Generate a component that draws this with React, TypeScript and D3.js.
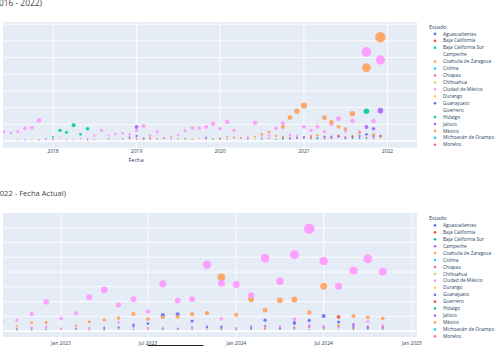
import React from "react";
import * as d3 from "d3";

type N = number | null;

// ---------- categories ----------
const STATES = [
  "Aguascalientes", "Baja California", "Baja California Sur", "Campeche",
  "Coahuila de Zaragoza", "Colima", "Chiapas", "Chihuahua", "Ciudad de México",
  "Durango", "Guanajuato", "Guerrero", "Hidalgo", "Jalisco", "México",
  "Michoacán de Ocampo", "Morelos",
];
const PALETTE = ["#636efa", "#EF553B", "#00cc96", "#ab63fa", "#FFA15A", "#19d3f3", "#FF6692", "#B6E880", "#FF97FF", "#FECB52"];
const TOP_HIDDEN = ["Campeche", "Guerrero"];

const TOP_TITLE = "Casos por Estado (2016 - 2022)";
const BOTTOM_TITLE = "Casos por Estado (2022 - Fecha Actual)";
const X_TITLE = "Fecha";
const LEGEND_TITLE = "Estado";

// months (Jun 2017 – Dec 2021) and (Sep 2022 – Nov 2024)
const TOP_MONTHS = d3.timeMonth.range(new Date(2017, 5, 1), new Date(2022, 0, 1));
const BOTTOM_MONTHS = d3.timeMonth.range(new Date(2022, 8, 1), new Date(2024, 11, 1));

const TOP_TICKS = [new Date(2018, 0, 1), new Date(2019, 0, 1), new Date(2020, 0, 1), new Date(2021, 0, 1), new Date(2022, 0, 1)];
const TOP_TICK_LABELS = ["2018", "2019", "2020", "2021", "2022"];
const BOTTOM_TICKS = [new Date(2023, 0, 1), new Date(2023, 6, 1), new Date(2024, 0, 1), new Date(2024, 6, 1), new Date(2025, 0, 1)];
const BOTTOM_TICK_LABELS = ["Jan 2023", "Jul 2023", "Jan 2024", "Jul 2024", "Jan 2025"];
const Y_GRID = [0, 100, 200, 300, 400, 500, 600, 700];

// ---------- top chart values (55 months) ----------
const topCdmx: N[] = [
  56, 48, 56, 76, 80, 124, 14, 12, 18, 12,
  10, 18, 14, 32, 64, 32, 42, 46, 40, 62,
  90, 34, 56, 18, 16, 36, 62, 78, 78, 84,
  104, 74, 114, 64, 18, 22, 110, 28, 34, 76,
  106, 36, 30, 86, 64, 86, 56, 102, 134, 60,
  120, 56, 534, 120, 486,
];
const topMexico: N[] = [
  null, null, 6, null, 8, 6, null, 10, null, 8,
  null, 6, null, 8, null, 10, null, 12, 14, 16,
  12, 22, 10, 14, 26, 12, 14, 10, 16, 12,
  14, 12, 24, 22, 16, 18, 26, 40, 54, 30,
  84, 140, 178, 212, 30, 34, 140, 112, 86, 74,
  164, 50, 440, 40, 622,
];
const topHidalgo: N[] = [
  null, null, null, null, null, null, null, 24, 64, 52,
  94, 40, 74, 10, null, null, null, null, null, null,
  8, null, null, null, null, null, null, null, null, null,
  10, null, null, null, null, null, null, null, null, null,
  12, null, null, null, null, 14, null, null, null, null,
  16, null, 178, null, null,
];
const topJalisco: N[] = [
  null, null, null, null, null, null, 12, null, null, null,
  null, null, 10, null, null, null, null, null, 22, 84,
  14, null, null, 18, null, null, null, null, null, 16,
  null, null, null, null, null, 14, null, null, null, null,
  null, 12, null, 22, null, null, 24, 26, null, 20,
  null, 30, 84, 74, 182,
];
const topGuanajuato: N[] = [
  null, null, null, 8, null, 6, null, 8, null, null,
  10, null, 8, null, null, 12, null, 14, 16, 30,
  18, null, 12, null, 10, null, 14, 10, null, 20,
  null, 12, 10, null, 18, 14, null, 14, null, 10,
  16, 12, 20, 24, 14, 20, 12, 18, 26, 14,
  22, 18, 40, 30, 28,
];
const topBajaCalifornia: N[] = [
  null, null, null, null, null, null, null, null, null, null,
  null, null, null, null, null, null, null, null, null, 10,
  null, 12, null, null, null, null, null, null, null, null,
  null, 16, null, 20, null, null, null, null, null, null,
  22, null, 18, null, 24, null, 26, null, 30, null,
  28, null, 20, null, 30,
];
const topChiapas: N[] = [
  null, null, null, null, null, null, null, null, null, null,
  null, null, null, null, null, null, null, null, null, null,
  null, 14, null, null, null, null, null, 10, null, null,
  null, null, null, null, null, null, null, null, 18, null,
  null, 20, null, 16, null, null, null, 20, null, 22,
  null, null, null, 18, null,
];
const topDurango: N[] = [
  null, null, 8, null, null, 10, null, null, null, null,
  8, null, null, null, 10, null, null, null, null, null,
  null, null, 12, null, null, null, 10, null, null, null,
  null, null, null, null, null, null, 12, null, null, null,
  14, null, null, null, 12, null, null, null, null, null,
  14, null, null, null, 16,
];
const topMichoacan: N[] = [
  null, null, null, null, null, null, null, null, null, null,
  null, null, 8, null, null, null, null, null, null, null,
  null, null, null, null, null, 10, null, null, null, null,
  null, null, null, null, null, null, null, 12, null, null,
  null, null, null, null, null, 12, null, null, null, null,
  null, null, 14, null, null,
];
const topChihuahua: N[] = [
  null, null, null, null, null, null, null, null, null, null,
  null, null, null, null, null, null, 8, null, null, null,
  null, null, null, null, null, null, null, null, null, null,
  10, null, null, null, null, null, null, null, null, null,
  null, null, null, null, null, null, null, 12, null, null,
  null, null, null, null, null,
];

// ---------- bottom chart values (27 months) ----------
const botCdmx: N[] = [63, 74, 115, 198, 86, 120, 230, 279, 178, 216, 133, 320, 207, 216, 450, 324, 315, 243, 495, 338, 518, 694, 475, 304, 410, 489, 403];
const botMexico: N[] = [null, 32, 56, 58, 20, 36, 63, 76, 88, 115, 81, 93, 98, 115, 122, 365, 110, 216, 142, 209, 214, 126, 304, 40, 103, 93, 86];
const botGuanajuato: N[] = [null, null, 10, 14, null, 12, null, 18, 22, 43, 50, 108, 113, 68, 25, 30, 12, 20, 74, 18, 50, 72, 103, 62, 30, 18, 14];
const botNuevoLeon: N[] = [14, null, 25, 30, 12, null, 15, null, 60, null, 20, null, null, 18, null, 84, 20, 25, null, 30, 80, 40, 35, 22, 30, 65, 40];
const botBajaCalifornia: N[] = [null, 12, null, null, null, null, 10, null, null, 12, 16, null, 14, 20, null, 18, null, 12, 20, 15, 24, 28, 22, 96, 20, 26, 24];
const botJalisco: N[] = [10, 16, 22, 28, 14, 18, 20, 24, 26, 30, 22, 20, 18, 24, 30, 26, 20, 30, 34, 28, 60, 36, 30, 28, 44, 30, 32];
const botDurango: N[] = [null, 10, 14, 12, null, 8, 10, 12, 14, 10, 12, 8, 10, 14, 12, 10, 8, 10, 12, 14, 16, 12, 14, 10, 12, 14, 10];
const botHidalgo: N[] = [null, 8, null, 10, null, null, null, 8, null, 10, null, 12, null, 10, null, 8, null, 10, null, 12, 14, 10, 12, null, 10, 12, null];
const botChiapas: N[] = [null, null, 8, null, 10, null, 8, null, 12, null, 10, null, 14, null, 8, null, 10, null, 12, null, 16, null, 14, null, 12, null, 10];

type Series = { state: string; color: string; values: N[] };

const TOP_SERIES: Series[] = [
  { state: "Guanajuato", color: "#636efa", values: topGuanajuato },
  { state: "Baja California", color: "#EF553B", values: topBajaCalifornia },
  { state: "Chiapas", color: "#FF6692", values: topChiapas },
  { state: "Chihuahua", color: "#B6E880", values: topChihuahua },
  { state: "Durango", color: "#FECB52", values: topDurango },
  { state: "Michoacán de Ocampo", color: "#19d3f3", values: topMichoacan },
  { state: "Ciudad de México", color: "#FF97FF", values: topCdmx },
  { state: "Hidalgo", color: "#00cc96", values: topHidalgo },
  { state: "Jalisco", color: "#ab63fa", values: topJalisco },
  { state: "México", color: "#FFA15A", values: topMexico },
];

const BOTTOM_SERIES: Series[] = [
  { state: "Baja California", color: "#EF553B", values: botBajaCalifornia },
  { state: "Chiapas", color: "#FF6692", values: botChiapas },
  { state: "Durango", color: "#FECB52", values: botDurango },
  { state: "Hidalgo", color: "#00cc96", values: botHidalgo },
  { state: "Jalisco", color: "#ab63fa", values: botJalisco },
  { state: "Nuevo León", color: "#FF97FF", values: botNuevoLeon },
  { state: "Guanajuato", color: "#636efa", values: botGuanajuato },
  { state: "México", color: "#FFA15A", values: botMexico },
  { state: "Ciudad de México", color: "#FF97FF", values: botCdmx },
];

const FONT = "'Open Sans', 'Noto Sans', sans-serif";
const TXT = "#2a3f5f";
const BG = "#E5ECF6";

type PanelProps = {
  id: string;
  top: number;
  bottom: number;
  months: Date[];
  series: Series[];
  x: d3.ScaleTime<number, number>;
  ticks: Date[];
  tickLabels: string[];
  yDomain: [number, number];
  yGrid: number[];
  title: string;
  titleEnd: number;
  titleY: number;
  titleSize: number;
  tickY: number;
  xTitle?: string;
  legendTop: number;
  hidden: string[];
};

const LEFT = 3;
const RIGHT = 417;

function Panel(p: PanelProps) {
  const y = d3.scaleLinear().domain(p.yDomain).range([p.bottom, p.top]);
  const maxV = d3.max(p.series.flatMap((s) => s.values.filter((v): v is number => v != null))) ?? 1;
  const r = d3.scaleSqrt().domain([0, maxV]).range([0, 5.2]);
  const grid = p.yGrid.filter((g) => y(g) > p.top + 2);
  return (
    <g>
      <defs>
        <clipPath id={p.id}>
          <rect x={LEFT} y={p.top} width={RIGHT - LEFT} height={p.bottom - p.top} />
        </clipPath>
      </defs>
      <text x={p.titleEnd} y={p.titleY} textAnchor="end" fontSize={p.titleSize} fill="#444" fontFamily={FONT}>
        {p.title}
      </text>
      <rect x={LEFT} y={p.top} width={RIGHT - LEFT} height={p.bottom - p.top} fill={BG} />
      <g clipPath={`url(#${p.id})`}>
        {p.ticks.map((t, i) => (
          <line key={"vx" + i} x1={p.x(t)} x2={p.x(t)} y1={p.top} y2={p.bottom} stroke="#fff" strokeWidth={0.8} />
        ))}
        {grid.map((g) => (
          <line key={"gy" + g} x1={LEFT} x2={RIGHT} y1={y(g)} y2={y(g)} stroke="#fff" strokeWidth={g === 0 ? 1.6 : 0.8} />
        ))}
        {p.series.map((s) =>
          s.values.map((v, i) =>
            v == null ? null : (
              <circle
                key={s.state + i}
                cx={p.x(p.months[i])}
                cy={y(v)}
                r={Math.max(0.6, r(v))}
                fill={s.color}
                opacity={0.9}
              />
            )
          )
        )}
      </g>
      {p.ticks.map((t, i) => (
        <text key={"tl" + i} x={p.x(t)} y={p.tickY} textAnchor="middle" fontSize={5} fill={TXT} fontFamily={FONT}>
          {p.tickLabels[i]}
        </text>
      ))}
      {p.xTitle ? (
        <text x={(LEFT + RIGHT) / 2 - 74} y={p.tickY + 9} textAnchor="middle" fontSize={5.6} fill={TXT} fontFamily={FONT}>
          {p.xTitle}
        </text>
      ) : null}
      <text x={429} y={p.legendTop} fontSize={5.6} fill={TXT} fontFamily={FONT}>
        {LEGEND_TITLE}
      </text>
      {STATES.map((st, i) => {
        const ly = p.legendTop + 7 + i * 6.93;
        return (
          <g key={st}>
            {p.hidden.includes(st) ? null : <circle cx={435} cy={ly - 1.6} r={1.3} fill={PALETTE[i % PALETTE.length]} />}
            <text x={443} y={ly} fontSize={4.8} fill={TXT} fontFamily={FONT}>
              {st}
            </text>
          </g>
        );
      })}
    </g>
  );
}

export default function App() {
  const xTop = d3.scaleTime().domain([new Date(2018, 0, 1), new Date(2022, 0, 1)]).range([53, 387.5]);
  const xBot = d3.scaleTime().domain([new Date(2023, 0, 1), new Date(2025, 0, 1)]).range([61, 412]);
  return (
    <svg
      width={503}
      height={360}
      style={{ position: "absolute", left: 0, top: 0, background: "#fff" }}
      xmlns="http://www.w3.org/2000/svg"
    >
      <rect width={503} height={360} fill="#fff" />
      <Panel
        id="clipTop"
        top={22}
        bottom={147.7}
        months={TOP_MONTHS}
        series={TOP_SERIES}
        x={xTop}
        ticks={TOP_TICKS}
        tickLabels={TOP_TICK_LABELS}
        yDomain={[-40, 713]}
        yGrid={Y_GRID}
        title={TOP_TITLE}
        titleEnd={42}
        titleY={5.5}
        titleSize={8.4}
        tickY={152.5}
        xTitle={X_TITLE}
        legendTop={28.5}
        hidden={TOP_HIDDEN}
      />
      <Panel
        id="clipBot"
        top={213}
        bottom={337}
        months={BOTTOM_MONTHS}
        series={BOTTOM_SERIES}
        x={xBot}
        ticks={BOTTOM_TICKS}
        tickLabels={BOTTOM_TICK_LABELS}
        yDomain={[-40, 800]}
        yGrid={Y_GRID}
        title={BOTTOM_TITLE}
        titleEnd={66}
        titleY={196}
        titleSize={7.6}
        tickY={344.5}
        legendTop={220}
        hidden={[]}
      />
      <line x1={148} x2={203} y1={345.5} y2={345.5} stroke="#222" strokeWidth={1.2} strokeLinecap="round" />
    </svg>
  );
}
